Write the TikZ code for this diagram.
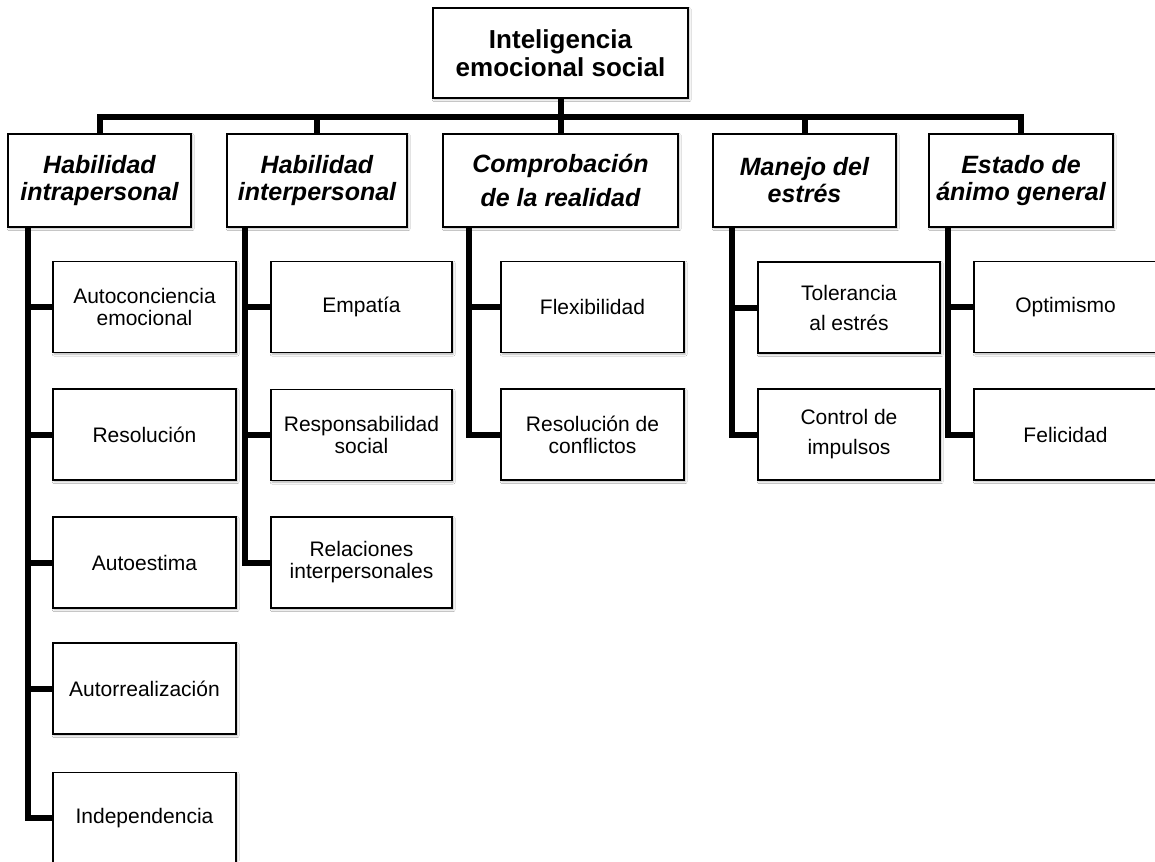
\documentclass[tikz,border=0pt]{standalone}
\usepackage{fontspec}
\setmainfont{Liberation Sans}
\usetikzlibrary{shadows.blur}

\tikzset{
  box/.style={draw=black, line width=1.4pt, fill=white, align=center, inner sep=0pt,
    blur shadow={shadow xshift=1.2pt, shadow yshift=-1.6pt, shadow blur steps=4,
      shadow opacity=30, shadow blur radius=2pt}},
  rootbox/.style={box, minimum width=255pt, minimum height=90pt,
    font=\bfseries\fontsize{26}{28}\selectfont},
  catbox/.style={box, minimum height=93pt,
    font=\bfseries\itshape\fontsize{25}{27}\selectfont},
  leafbox/.style={box, minimum width=183pt, minimum height=91pt,
    font=\fontsize{21}{22}\selectfont},
  wideleading/.style={font=\fontsize{21}{30}\selectfont},
  conn/.style={draw=black, line width=6pt, line join=miter}
}

\begin{document}
\begin{tikzpicture}[x=1pt, y=-1pt]
  \clip (0,0) rectangle (1155,861);
  \fill[white] (0,0) rectangle (1155,861);

  % root
  \node[rootbox] (root) at (560.5,53) {Inteligencia\\emocional social};

  % the five components
  \node[catbox, minimum width=183pt] (cat1) at (99.5,180.5) {Habilidad\\intrapersonal};
  \node[catbox, minimum width=180pt] (cat2) at (317,180.5) {Habilidad\\interpersonal};
  \node[catbox, minimum width=235pt, font=\bfseries\itshape\fontsize{25}{34}\selectfont]
    (cat3) at (560.5,180.5) {Comprobación\\de la realidad};
  \node[catbox, minimum width=183pt] (cat4) at (804.5,180.5) {Manejo del\\estrés};
  \node[catbox, minimum width=184pt] (cat5) at (1021,180.5) {Estado de\\ánimo general};

  % sub-components, column 1
  \node[leafbox] (a1) at (144.5,307) {Autoconciencia\\emocional};
  \node[leafbox] (a2) at (144.5,434.5) {Resolución};
  \node[leafbox] (a3) at (144.5,562.5) {Autoestima};
  \node[leafbox] (a4) at (144.5,688.5) {Autorrealización};
  \node[leafbox] (a5) at (144.5,818) {Independencia};

  % column 2
  \node[leafbox, minimum width=181pt] (b1) at (361.5,307) {Empatía};
  \node[leafbox, minimum width=181pt] (b2) at (361.5,435) {Responsabilidad\\social};
  \node[leafbox, minimum width=181pt] (b3) at (361.5,562.5) {Relaciones\\interpersonales};

  % column 3
  \node[leafbox] (c1) at (592.5,307) {Flexibilidad};
  \node[leafbox] (c2) at (592.5,434.5) {Resolución de\\conflictos};

  % column 4
  \node[leafbox, minimum width=182pt, wideleading] (d1) at (849,307.5) {Tolerancia\\al estrés};
  \node[leafbox, minimum width=182pt, wideleading] (d2) at (849,434.5) {Control de\\impulsos};

  % column 5
  \node[leafbox] (e1) at (1065.5,307) {Optimismo};
  \node[leafbox] (e2) at (1065.5,434.5) {Felicidad};

  % x positions of the column spines and y of the main bus
  \coordinate (v1) at (28,0);
  \coordinate (v2) at (245,0);
  \coordinate (v3) at (469,0);
  \coordinate (v4) at (732,0);
  \coordinate (v5) at (948,0);
  \coordinate (bus) at (0,117);

  % main bus
  \draw[conn] (root.south) -- (cat3.north);
  \draw[conn] (cat1.north) -- (cat1.north |- bus) -- (cat5.north |- bus) -- (cat5.north);
  \draw[conn] (cat2.north |- bus) -- (cat2.north);
  \draw[conn] (cat4.north |- bus) -- (cat4.north);

  % column spines with branches
  \draw[conn] (cat1.south -| v1) -- (v1 |- a5.west) -- (a5.west);
  \foreach \n in {a1,a2,a3,a4} \draw[conn] (v1 |- \n.west) -- (\n.west);

  \draw[conn] (cat2.south -| v2) -- (v2 |- b3.west) -- (b3.west);
  \foreach \n in {b1,b2} \draw[conn] (v2 |- \n.west) -- (\n.west);

  \draw[conn] (cat3.south -| v3) -- (v3 |- c2.west) -- (c2.west);
  \draw[conn] (v3 |- c1.west) -- (c1.west);

  \draw[conn] (cat4.south -| v4) -- (v4 |- d2.west) -- (d2.west);
  \draw[conn] (v4 |- d1.west) -- (d1.west);

  \draw[conn] (cat5.south -| v5) -- (v5 |- e2.west) -- (e2.west);
  \draw[conn] (v5 |- e1.west) -- (e1.west);
\end{tikzpicture}
\end{document}
